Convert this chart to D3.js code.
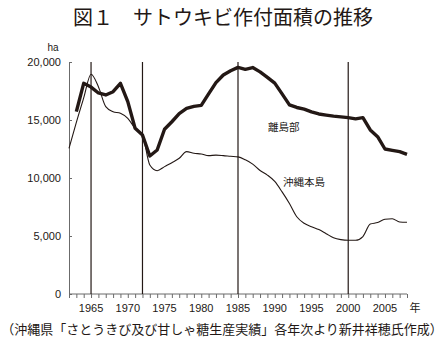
<!DOCTYPE html>
<html><head><meta charset="utf-8">
<script src="https://cdn.jsdelivr.net/npm/d3@7"></script>
<style>
html,body{margin:0;padding:0;background:#fff;}
svg{display:block;}
text{fill:#231815;}
</style></head>
<body>
<svg id="c" width="444" height="342"></svg>
<script>
const title = "図１　サトウキビ作付面積の推移";
const footnote = "（沖縄県「さとうきび及び甘しゃ糖生産実績」各年次より新井祥穂氏作成）";
const yUnit = "ha";
const xUnit = "年";
const yTicks = [0, 5000, 10000, 15000, 20000];
const xLabelYears = [1965, 1970, 1975, 1980, 1985, 1990, 1995, 2000, 2005];
const markerYears = [1965, 1972, 1985, 2000];

const islandsName = "離島部";
const islandsYears = [1963,1964,1965,1966,1967,1968,1969,1970,1971,1972,1973,1974,1975,1976,1977,1978,1979,1980,1981,1982,1983,1984,1985,1986,1987,1988,1989,1990,1991,1992,1993,1994,1995,1996,1997,1998,1999,2000,2001,2002,2003,2004,2005,2006,2007,2008];
const islandsValues = [15720,18160,17840,17330,17160,17440,18160,16580,14280,13700,11900,12410,14200,14850,15550,16000,16180,16260,17250,18220,18880,19250,19540,19370,19520,19150,18680,18180,17250,16300,16080,15930,15700,15520,15420,15330,15270,15200,15100,15200,14140,13560,12500,12380,12270,12040];

const mainName = "沖縄本島";
const mainYears = [1962,1963,1964,1965,1966,1967,1968,1969,1970,1971,1972,1973,1974,1975,1976,1977,1978,1979,1980,1981,1982,1983,1984,1985,1986,1987,1988,1989,1990,1991,1992,1993,1994,1995,1996,1997,1998,1999,2000,2001,2002,2003,2004,2005,2006,2007,2008];
const mainValues = [12560,14800,16900,18940,17870,16150,15720,15580,15150,14280,13700,11120,10630,10980,11320,11700,12270,12130,12070,11930,11970,11930,11870,11820,11570,11200,10650,10250,9700,8800,7800,6660,6100,5800,5550,5200,4850,4690,4630,4630,4950,6030,6160,6440,6490,6210,6180];

const ink = "#231815";
const svg = d3.select("#c");
const x = d3.scaleLinear().domain([1962, 2008]).range([69, 407]);
const y = d3.scaleLinear().domain([0, 20000]).range([294, 62]);

// title
svg.append("text").attr("x", 223).attr("y", 25).attr("text-anchor", "middle")
  .style("font-family", "'Noto Sans CJK JP'").style("font-size", "20px").style("font-weight", 400)
  .text(title);

// axes
const yAxis = d3.axisLeft(y).tickValues(yTicks).tickSize(-3).tickPadding(8)
  .tickFormat(d3.format(","));
const gy = svg.append("g").attr("transform", `translate(${x(1962)},0)`).call(yAxis);
gy.select(".domain").attr("stroke", "#6b6b6b");
gy.selectAll(".tick line").attr("stroke", "#6b6b6b");
gy.selectAll("text").style("font-family", "'Liberation Sans', Arial, sans-serif").style("font-size", "11px").attr("fill", ink);

const allYears = d3.range(1962, 2009);
const xAxis = d3.axisBottom(x).tickValues(allYears).tickSize(4).tickFormat("");
const gx = svg.append("g").attr("transform", `translate(0,${y(0)})`).call(xAxis);
gx.select(".domain").attr("stroke", "#6b6b6b").attr("d", `M${x(1962)},0H${x(2008)}`);
gx.selectAll(".tick line").attr("stroke", "#6b6b6b");

svg.append("g").selectAll("text").data(xLabelYears).join("text")
  .attr("x", d => x(d)).attr("y", 312).attr("text-anchor", "middle")
  .style("font-family", "'Liberation Sans', Arial, sans-serif").style("font-size", "11px")
  .text(d => d);

svg.append("text").attr("x", 415).attr("y", 312).attr("text-anchor", "middle")
  .style("font-family", "'Noto Sans CJK JP'").style("font-size", "11px").text(xUnit);
svg.append("text").attr("x", 53).attr("y", 51).attr("text-anchor", "middle")
  .style("font-family", "'Liberation Sans', Arial, sans-serif").style("font-size", "10px").text(yUnit);

// marker lines
svg.append("g").selectAll("line").data(markerYears).join("line")
  .attr("x1", d => x(d)).attr("x2", d => x(d)).attr("y1", y(20000)).attr("y2", y(0))
  .attr("stroke", ink).attr("stroke-width", 1.2);

// series
const line = d3.line().x(d => x(d[0])).y(d => y(d[1]));
const smooth = d3.line().x(d => x(d[0])).y(d => y(d[1])).curve(d3.curveMonotoneX);
svg.append("path").datum(mainYears.map((yr, i) => [yr, mainValues[i]]))
  .attr("d", smooth).attr("fill", "none").attr("stroke", ink).attr("stroke-width", 1.1)
  .attr("stroke-linejoin", "round");
svg.append("path").datum(islandsYears.map((yr, i) => [yr, islandsValues[i]]))
  .attr("d", line).attr("fill", "none").attr("stroke", ink).attr("stroke-width", 3.4)
  .attr("stroke-linejoin", "round");

// series labels
svg.append("text").attr("x", 268).attr("y", 131)
  .style("font-family", "'Noto Sans CJK JP'").style("font-size", "10.5px").text(islandsName);
svg.append("text").attr("x", 283).attr("y", 186)
  .style("font-family", "'Noto Sans CJK JP'").style("font-size", "10.5px").text(mainName);

// footnote
svg.append("text").attr("x", 222).attr("y", 334).attr("text-anchor", "middle")
  .style("font-family", "'Noto Sans CJK JP'").style("font-size", "13px").text(footnote);
</script>
</body></html>
